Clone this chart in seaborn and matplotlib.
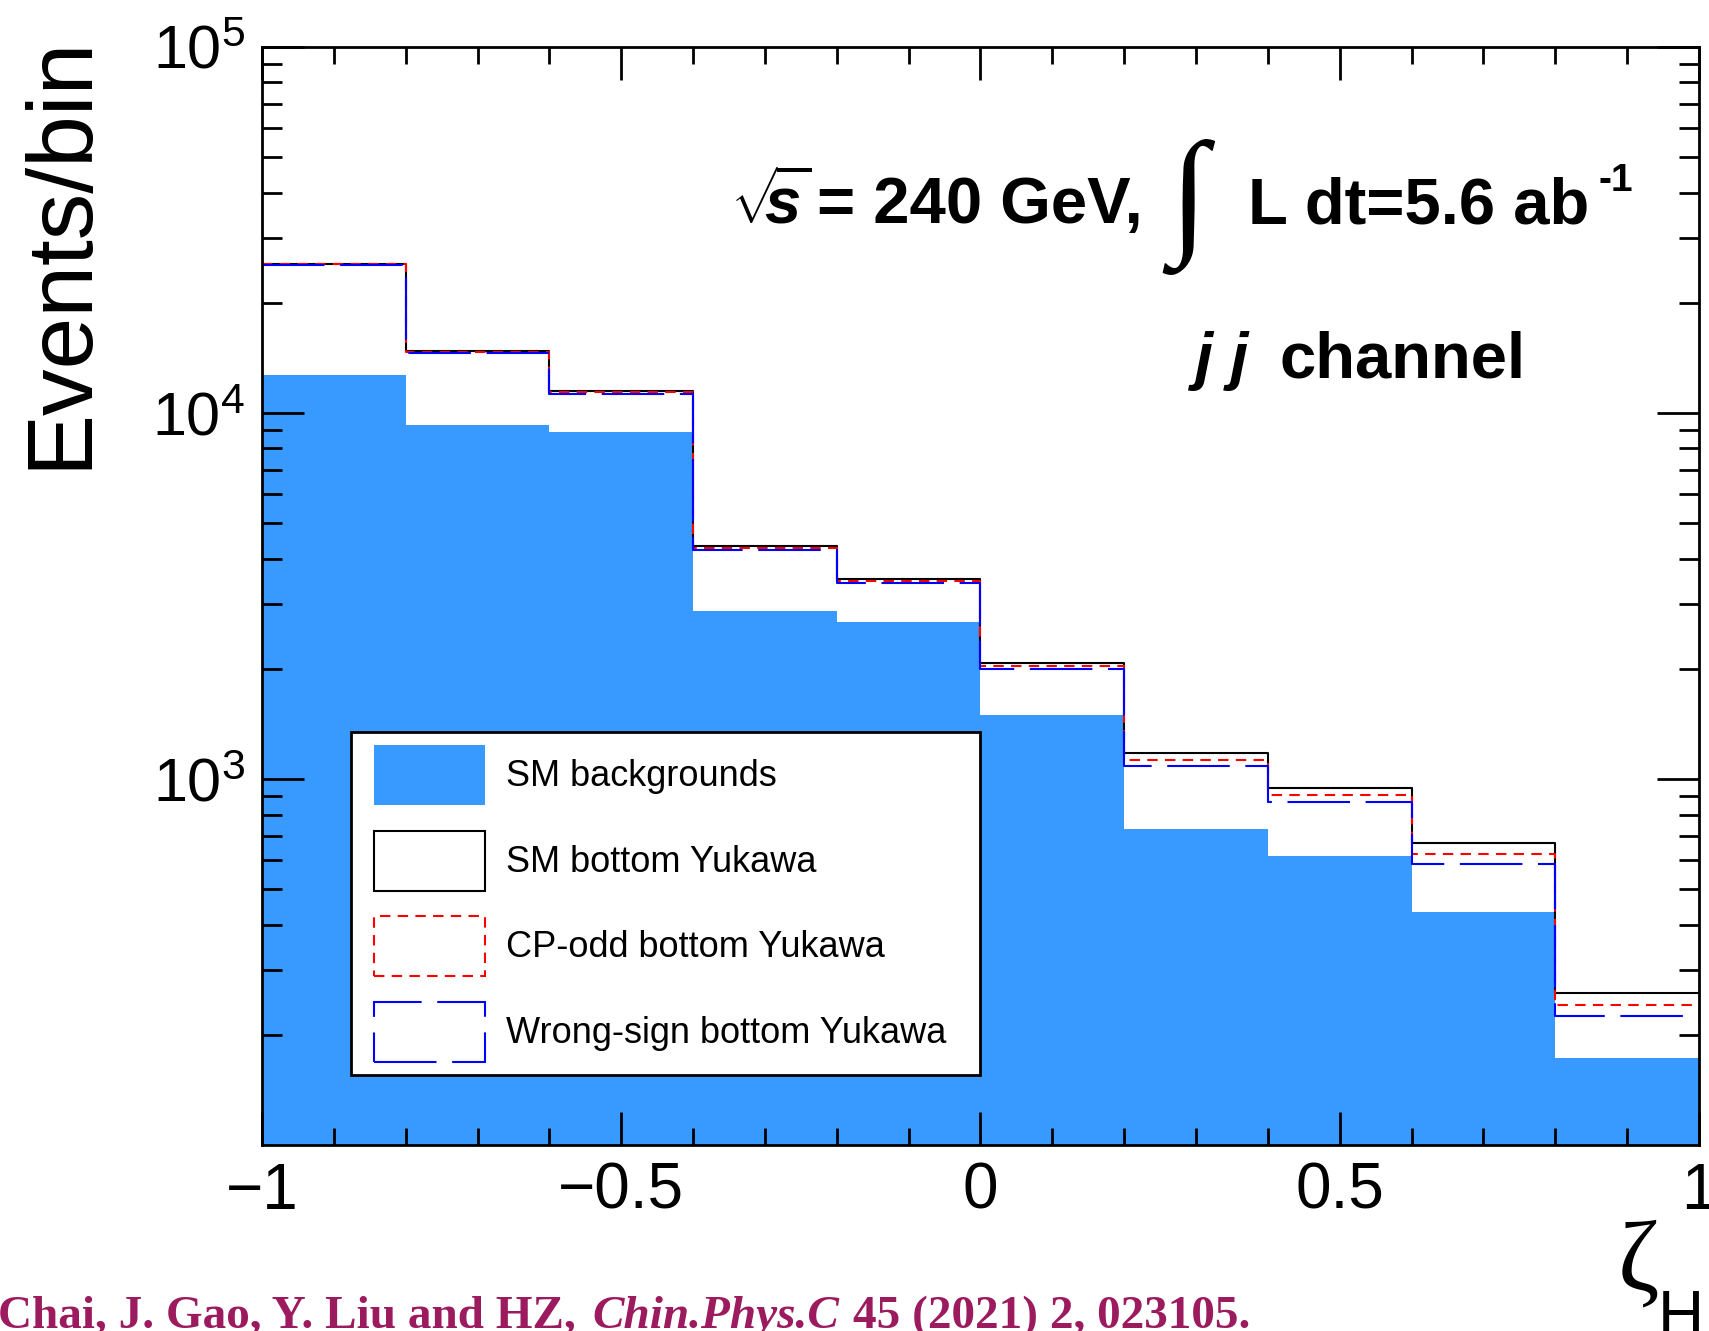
import numpy as np
import pandas as pd
import matplotlib
matplotlib.use('Agg')
import matplotlib.pyplot as plt
import seaborn as sns
from matplotlib.patches import Patch, Rectangle
from matplotlib.legend_handler import HandlerPatch
from matplotlib.ticker import FixedLocator, LogLocator, NullFormatter, MultipleLocator
from matplotlib.transforms import IdentityTransform

# histogram binning in zeta_H
bin_edges = [-1.0, -0.8, -0.6, -0.4, -0.2, 0.0, 0.2, 0.4, 0.6, 0.8, 1.0]

# events per bin
sm_backgrounds = [12700, 9250, 8900, 2880, 2680, 1500, 732, 615, 432, 173]
sm_yukawa      = [25600, 14800, 11500, 4320, 3520, 2070, 1180, 945, 670, 260]
cp_odd_yukawa  = [25500, 14700, 11400, 4270, 3470, 2030, 1130, 905, 623, 241]
wrong_sign     = [25400, 14600, 11300, 4220, 3430, 2000, 1088, 864, 586, 225]

legend_labels = ['SM backgrounds', 'SM bottom Yukawa',
                 'CP-odd bottom Yukawa', 'Wrong-sign bottom Yukawa']
xtick_values = [-1, -0.5, 0, 0.5, 1]
xtick_labels = ['\u22121', '\u22120.5', '0', '0.5', '1']
ytick_values = [1e3, 1e4, 1e5]

centers = (np.array(bin_edges[:-1]) + np.array(bin_edges[1:])) / 2
df = pd.DataFrame({'zeta': centers, 'bkg': sm_backgrounds, 'sm': sm_yukawa,
                   'cp': cp_odd_yukawa, 'ws': wrong_sign})

sns.set_style('ticks')
plt.rcParams['font.family'] = ['Liberation Sans', 'DejaVu Sans']
plt.rcParams['mathtext.fontset'] = 'custom'
plt.rcParams['mathtext.rm'] = 'Liberation Sans:bold'
plt.rcParams['mathtext.it'] = 'Liberation Sans:italic:bold'
plt.rcParams['mathtext.bf'] = 'Liberation Sans:bold'
for k in ['text.color', 'axes.labelcolor', 'xtick.color', 'ytick.color', 'axes.edgecolor']:
    plt.rcParams[k] = 'black'

fill_color = '#3899ff'
red_dash = (0, (5, 3.5))
blue_dash = (0, (30, 7.5))

fig = plt.figure(figsize=(17.09, 13.31), dpi=100)
ax = fig.add_axes([0.1533, 0.1397, 0.8408, 0.8250])
ax.set_yscale('log')

sns.histplot(data=df, x='zeta', weights='bkg', bins=bin_edges, element='step',
             fill=True, color=fill_color, alpha=1, linewidth=0, ax=ax)
sns.histplot(data=df, x='zeta', weights='sm', bins=bin_edges, element='step',
             fill=False, color='black', linewidth=1.5, ax=ax)
sns.histplot(data=df, x='zeta', weights='cp', bins=bin_edges, element='step',
             fill=False, color='red', linewidth=1.5, linestyle=red_dash, ax=ax)
sns.histplot(data=df, x='zeta', weights='ws', bins=bin_edges, element='step',
             fill=False, color='blue', linewidth=1.5, linestyle=blue_dash, ax=ax)

ax.set_xlim(-1, 1)
ax.set_ylim(100, 1e5)
ax.set_xticks(xtick_values)
ax.set_xticklabels(xtick_labels)
ax.xaxis.set_minor_locator(MultipleLocator(0.1))
ax.yaxis.set_major_locator(FixedLocator(ytick_values))
ax.yaxis.set_minor_locator(LogLocator(base=10, subs=[2, 3, 4, 5, 6, 7, 8, 9], numticks=30))
ax.yaxis.set_minor_formatter(NullFormatter())
ax.set_axisbelow(False)

ax.tick_params(which='both', direction='in', top=True, right=True, width=2, color='black')
ax.tick_params(axis='x', which='major', length=24, pad=12, labelsize=46)
ax.tick_params(axis='x', which='minor', length=12.5)
ax.tick_params(axis='y', which='major', length=30, pad=12, labelsize=44)
ax.tick_params(axis='y', which='minor', length=14.5)
for s in ax.spines.values():
    s.set_linewidth(2)
    s.set_color('black')

ax.set_xlabel('')
ax.set_ylabel('Events/bin', fontsize=67, loc='top')
ax.yaxis.set_label_coords(-0.1096, 1.011)


def box_patch(legend, orig_handle, xdescent, ydescent, width, height, fontsize):
    # ROOT style legend box, a bit indented from the frame
    return Rectangle((-xdescent + 0.277 * fontsize, -ydescent), 3.089 * fontsize, height)


handles = [Patch(facecolor=fill_color, edgecolor='none'),
           Patch(facecolor='white', edgecolor='black', linewidth=1.5),
           Patch(facecolor='white', edgecolor='red', linewidth=1.5, linestyle=red_dash),
           Patch(facecolor='white', edgecolor='blue', linewidth=1.5, linestyle=blue_dash)]
leg = ax.legend(handles, legend_labels, loc='upper left',
                bbox_to_anchor=(0.0616, 0.0, 0.4379, 0.3764), mode='expand',
                borderaxespad=0, borderpad=0.368, fontsize=26, handlelength=3.366,
                handleheight=2.18, handletextpad=0.582, labelspacing=0.706,
                frameon=True, fancybox=False, framealpha=1, edgecolor='black',
                handler_map={Patch: HandlerPatch(patch_func=box_patch)})
leg.get_frame().set_linewidth(2)
for t in leg.get_texts():
    t.set_color('black')

# texts placed in pixel coordinates
T = IdentityTransform()
H = 1331
fig.text(730, H - 223, r'$\sqrt{\!\!s}$', fontsize=47, transform=T, ha='left', va='baseline')
fig.text(817, H - 223, '= 240 GeV,', fontsize=47, fontweight='bold',
         transform=T, ha='left', va='baseline')
fig.text(1188, H - 207, '\u222b', fontsize=100, family=['Liberation Serif', 'DejaVu Serif'],
         transform=T, ha='center', va='center')
fig.text(1248, H - 223, 'L dt=5.6 ab', fontsize=47, fontweight='bold',
         transform=T, ha='left', va='baseline')
fig.text(1598, H - 191, '-1', fontsize=28, fontweight='bold',
         transform=T, ha='left', va='baseline')
fig.text(1194, H - 378, 'j j', fontsize=47, fontweight='bold', fontstyle='italic',
         transform=T, ha='left', va='baseline')
fig.text(1280, H - 378, 'channel', fontsize=47, fontweight='bold',
         transform=T, ha='left', va='baseline')

# x axis title
fig.text(1638, H - 1290, '\u03b6', fontsize=72, family='Liberation Serif',
         transform=T, ha='center', va='baseline')
fig.text(1658, H - 1336, 'H', fontsize=46, transform=T, ha='left', va='baseline')

# reference line at the bottom
cap_color = '#9c1a5e'
fig.text(-2, 3, 'Chai, J. Gao, Y. Liu and HZ,', family='Liberation Serif',
         fontweight='bold', fontsize=34, color=cap_color, transform=T, va='baseline')
fig.text(592, 3, 'Chin.Phys.C', family='Liberation Serif', fontweight='bold',
         fontstyle='italic', fontsize=34, color=cap_color, transform=T, va='baseline')
fig.text(853, 3, '45 (2021) 2, 023105.', family='Liberation Serif',
         fontweight='bold', fontsize=34, color=cap_color, transform=T, va='baseline')

plt.savefig('out.png', dpi=100)
